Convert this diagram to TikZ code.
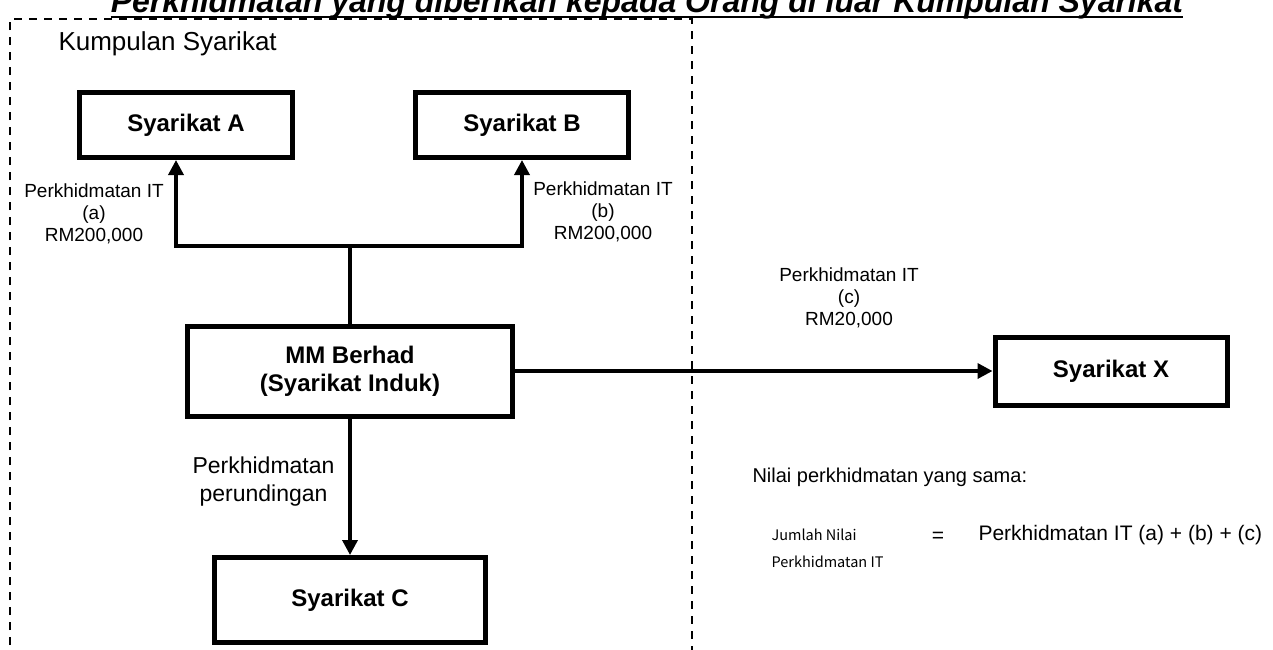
\documentclass[tikz,border=0pt]{standalone}
\usepackage[dvipsnames]{xcolor}
\usepackage{fontspec}
\setmainfont{Liberation Sans}
\newfontfamily\jpfont{Noto Sans CJK JP}
\usepackage{tikz}
\usetikzlibrary{arrows.meta}

\tikzset{
  firm/.style={draw=black, line width=5pt, fill=white, inner sep=0pt, align=center,
    font=\bfseries\fontsize{24}{28}\selectfont},
  flow/.style={line width=3.5pt, -{Triangle[length=15pt,width=15pt]}},
  note/.style={align=center, font=\fontsize{19}{22}\selectfont},
  groupframe/.style={line width=2pt, dash pattern=on 8pt off 7pt}
}

\begin{document}
\begin{tikzpicture}[x=1pt,y=-1pt]
        \useasboundingbox (0,0) rectangle (1273,649);

        \node[anchor=base, inner sep=0pt, font=\bfseries\itshape\fontsize{32}{36}\selectfont] (title) at (647,12) {Perkhidmatan yang diberikan kepada Orang di luar Kumpulan Syarikat};
        \draw[line width=2.5pt] ([yshift=-5pt]title.base west) -- ([yshift=-5pt]title.base east);
        \draw[groupframe] (10,660) -- (10,19) -- (692,19) -- (692,660);
        \node[anchor=west, font=\fontsize{26}{30}\selectfont] (group) at (55,44) {Kumpulan Syarikat};

        \node[firm, minimum width=213pt, minimum height=65pt] (a) at (186,125) {Syarikat A};
        \node[firm, minimum width=213pt, minimum height=65pt] (b) at (522,125) {Syarikat B};
        \node[firm, minimum width=325pt, minimum height=90pt] (mm) at (350,371) {MM Berhad\\(Syarikat Induk)};
        \node[firm, minimum width=271pt, minimum height=85pt] (c) at (350,600) {Syarikat C};
        \node[firm, minimum width=232pt, minimum height=68pt] (x) at (1111,371) {Syarikat X};
        \coordinate (fork) at (350,246);

        \draw[line width=3.5pt] (mm.north) -- (fork);
        \draw[flow] (fork) -| ([xshift=-10pt]a.south);
        \draw[flow] (fork) -| (b.south);
        \draw[flow] (mm.east) -- (x.west);
        \draw[flow] (mm.south) -- (c.north);

        \node[note] (lbla) at (94,214) {Perkhidmatan IT\\(a)\\RM200,000};
        \node[note] (lblb) at (603,212) {Perkhidmatan IT\\(b)\\RM200,000};
        \node[note] (lblc) at (849,298) {Perkhidmatan IT\\(c)\\RM20,000};
        \node[anchor=east, align=center, font=\fontsize{23}{28}\selectfont] (lbld) at (338,482) {Perkhidmatan\\perundingan};

        \node[anchor=west, font=\fontsize{20}{24}\selectfont] (same) at (749,477) {Nilai perkhidmatan yang sama:};
        \node[anchor=west, align=left, font=\jpfont\fontsize{14.5}{27}\selectfont] (total) at (768,548) {Jumlah Nilai\\Perkhidmatan IT};
        \node[font=\fontsize{21}{24}\selectfont] (eq) at (938,537) {=};
        \node[anchor=west, font=\fontsize{21}{24}\selectfont] (sum) at (975,535) {Perkhidmatan IT (a) + (b) + (c)};

\end{tikzpicture}
\end{document}
